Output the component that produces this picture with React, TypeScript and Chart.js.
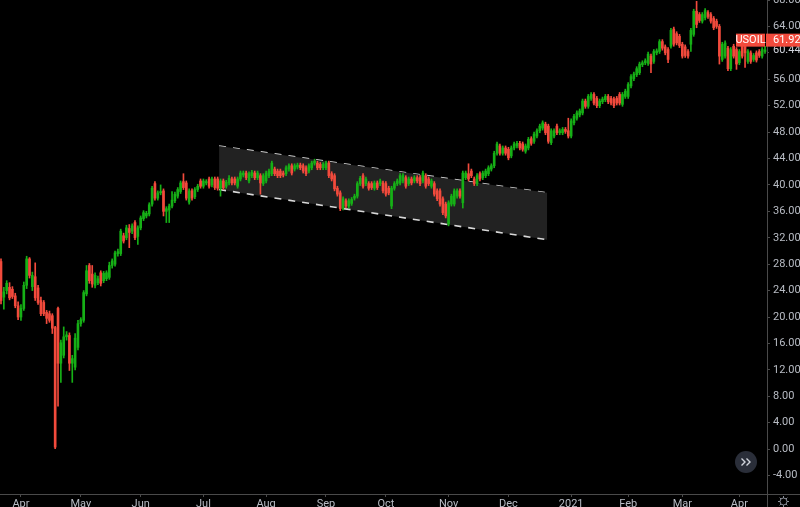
import React, { useEffect, useRef } from 'react';
import { Chart, registerables } from 'chart.js';
Chart.register(...registerables);

// ---- data (daily candles, USOIL) ----
const opens = [
  28.4, 23.0, 24.0, 24.5, 24.2, 23.2, 21.7, 20.0, 21.3, 24.8,
  28.8, 24.6, 26.1, 24.4, 22.5, 22.2, 20.7, 20.5, 20.2, 18.4,
  21.3, 13.0, 14.2, 17.0, 17.2, 13.0, 12.4, 15.4, 19.0, 19.5,
  23.5, 27.8, 26.5, 24.8, 25.2, 26.7, 25.5, 25.8, 26.0, 27.8,
  28.0, 29.6, 29.6, 32.3, 32.0, 33.4, 33.0, 34.3, 32.2, 33.5,
  34.9, 35.3, 35.6, 37.1, 40.2, 38.0, 38.8, 39.1, 36.0, 36.2,
  36.8, 37.6, 38.3, 39.0, 40.5, 40.3, 37.4, 39.1, 38.2, 39.3,
  40.6, 39.8, 40.3, 40.9, 40.0, 40.9, 40.9, 39.5, 40.6, 39.8,
  40.3, 40.9, 40.9, 39.8, 40.9, 41.5, 41.8, 40.6, 41.4, 41.8,
  41.1, 41.4, 40.2, 40.6, 41.4, 41.7, 42.4, 42.1, 42.1, 41.8,
  41.7, 42.4, 42.9, 42.4, 42.7, 43.0, 42.9, 42.6, 42.1, 42.6,
  43.3, 43.3, 43.1, 42.6, 42.6, 43.3, 41.7, 41.4, 39.5, 38.8,
  36.5, 37.6, 36.8, 37.2, 38.0, 38.3, 40.2, 41.4, 40.2, 40.2,
  40.2, 39.5, 40.3, 40.2, 40.3, 40.2, 39.5, 36.8, 39.5, 40.2,
  40.3, 40.6, 41.1, 40.2, 40.9, 40.6, 41.1, 41.1, 40.6, 41.4,
  40.9, 39.8, 40.2, 39.1, 39.1, 37.9, 37.1, 34.1, 37.1, 37.1,
  38.3, 39.1, 37.3, 41.1, 41.7, 42.1, 40.9, 40.2, 41.7, 41.1,
  41.4, 41.7, 42.4, 42.9, 44.8, 45.9, 44.8, 45.6, 45.4, 44.4,
  45.6, 45.9, 46.3, 46.2, 45.1, 45.6, 47.0, 46.6, 47.4, 48.2,
  48.6, 49.2, 48.9, 46.4, 47.4, 48.9, 47.9, 47.9, 48.4, 48.2,
  47.4, 49.4, 50.1, 50.6, 50.9, 52.7, 51.9, 53.1, 53.7, 53.1,
  52.0, 52.6, 52.9, 53.4, 53.1, 53.0, 53.1, 53.7, 52.2, 53.4,
  53.4, 55.0, 56.1, 56.7, 57.0, 58.2, 58.5, 58.4, 59.5, 58.7,
  60.0, 60.2, 61.7, 60.9, 60.5, 61.0, 63.6, 62.9, 62.5, 61.3,
  60.9, 60.2, 61.3, 62.8, 66.3, 65.8, 64.8, 65.3, 66.1, 65.8,
  65.2, 64.8, 64.0, 59.0, 59.5, 60.7, 57.6, 61.0, 60.5, 58.5,
  61.0, 61.3, 58.7, 60.0, 59.0, 60.0, 60.2, 59.5, 60.2,
];
const highs = [
  28.8, 24.5, 25.5, 25.2, 24.6, 23.6, 22.3, 21.9, 25.3, 29.2,
  29.0, 26.8, 28.2, 24.8, 23.0, 22.5, 21.0, 20.9, 20.5, 18.6,
  21.5, 16.5, 18.5, 17.8, 17.6, 14.2, 17.5, 19.5, 19.9, 24.0,
  27.8, 28.1, 27.8, 26.7, 26.2, 27.0, 26.9, 27.0, 28.3, 28.8,
  30.0, 30.3, 33.3, 32.7, 33.9, 34.0, 34.1, 34.6, 33.8, 35.3,
  36.1, 36.0, 37.3, 39.8, 40.5, 39.1, 40.0, 39.4, 36.7, 37.1,
  39.0, 38.9, 39.6, 40.6, 41.7, 40.6, 39.4, 39.4, 39.6, 40.1,
  40.9, 40.9, 40.8, 41.2, 41.2, 41.2, 41.2, 40.9, 40.9, 40.7,
  41.4, 41.2, 41.2, 41.2, 42.1, 42.1, 42.1, 42.0, 42.2, 42.1,
  42.1, 41.7, 41.7, 42.1, 42.4, 43.6, 42.7, 42.4, 42.4, 42.1,
  42.9, 43.2, 43.2, 43.2, 43.3, 43.3, 43.2, 42.9, 43.2, 43.6,
  43.9, 43.6, 43.4, 43.4, 43.6, 43.6, 42.0, 41.7, 39.8, 39.1,
  38.2, 37.9, 37.9, 38.1, 38.6, 40.5, 41.3, 41.7, 41.2, 40.5,
  40.5, 40.6, 40.6, 40.9, 40.6, 40.5, 39.8, 39.8, 40.5, 40.9,
  41.7, 41.7, 41.4, 41.2, 41.2, 41.4, 41.4, 41.4, 42.1, 41.7,
  41.2, 40.9, 40.5, 39.4, 39.4, 38.2, 37.4, 37.6, 38.6, 39.4,
  39.4, 39.4, 42.1, 42.1, 43.2, 42.4, 41.2, 41.7, 42.0, 42.1,
  42.4, 42.9, 43.2, 45.1, 46.5, 46.2, 45.9, 45.9, 45.7, 45.9,
  46.5, 46.6, 46.6, 46.5, 46.2, 47.2, 47.3, 48.0, 48.5, 49.2,
  49.7, 49.5, 49.2, 48.5, 48.5, 49.2, 48.5, 48.7, 48.7, 50.1,
  50.0, 50.7, 51.2, 51.5, 53.0, 53.0, 53.7, 54.0, 54.0, 53.4,
  53.0, 53.3, 53.7, 53.7, 53.4, 53.3, 53.4, 54.0, 54.0, 54.5,
  55.5, 56.7, 57.1, 57.9, 58.6, 58.8, 59.1, 60.1, 59.8, 60.5,
  60.6, 62.0, 62.0, 61.2, 60.8, 63.7, 63.9, 63.2, 62.8, 61.6,
  61.2, 60.5, 63.7, 66.6, 67.8, 66.1, 66.1, 66.7, 66.4, 66.1,
  65.5, 65.1, 64.3, 61.6, 61.8, 61.0, 60.8, 61.3, 60.8, 60.5,
  61.3, 61.6, 60.5, 60.3, 59.9, 60.3, 60.5, 60.8, 61.0,
];
const lows = [
  22.0, 21.2, 23.5, 22.6, 22.8, 21.4, 19.6, 19.5, 21.0, 24.3,
  25.9, 24.0, 22.5, 21.9, 20.2, 20.2, 19.0, 19.2, 17.5, 0.0,
  6.5, 10.1, 13.8, 16.5, 11.9, 10.1, 12.0, 15.0, 18.6, 19.2,
  23.2, 25.1, 24.5, 24.4, 24.9, 24.7, 25.2, 25.5, 25.7, 27.4,
  27.7, 29.2, 29.3, 31.2, 31.7, 30.5, 32.6, 31.7, 31.0, 33.2,
  34.6, 35.0, 35.3, 36.8, 37.7, 37.7, 38.5, 35.3, 34.3, 34.3,
  36.5, 37.3, 38.0, 38.7, 39.3, 37.7, 37.1, 37.7, 37.9, 39.0,
  39.5, 39.5, 40.0, 39.5, 39.7, 39.3, 39.2, 38.3, 39.3, 39.5,
  40.0, 40.0, 40.0, 39.5, 40.6, 41.2, 40.8, 40.3, 41.1, 40.8,
  40.8, 38.6, 39.9, 40.3, 41.1, 41.4, 41.4, 41.1, 41.1, 41.2,
  41.4, 42.1, 41.5, 42.1, 42.4, 42.3, 41.8, 41.4, 41.8, 42.3,
  43.0, 42.3, 42.3, 42.3, 42.3, 41.1, 40.6, 39.1, 38.3, 36.1,
  36.2, 36.5, 36.5, 36.9, 37.7, 38.0, 39.9, 39.5, 39.9, 39.2,
  39.3, 39.2, 39.3, 39.9, 38.8, 38.3, 38.5, 36.4, 39.2, 39.9,
  40.0, 40.3, 39.5, 39.9, 40.0, 40.3, 40.3, 39.9, 40.3, 39.5,
  39.9, 39.5, 38.3, 37.6, 36.8, 35.5, 35.0, 33.8, 36.8, 36.8,
  38.0, 38.0, 36.5, 40.8, 40.6, 41.1, 39.9, 39.9, 40.6, 40.8,
  41.1, 41.4, 42.1, 42.6, 44.5, 44.5, 44.5, 44.5, 43.8, 44.1,
  45.3, 45.6, 45.3, 45.1, 44.8, 45.3, 46.0, 46.3, 47.1, 47.9,
  48.3, 47.6, 46.3, 46.1, 47.1, 47.6, 47.6, 47.6, 47.8, 47.1,
  47.1, 49.1, 49.8, 50.3, 50.6, 51.6, 51.6, 52.8, 52.1, 51.7,
  51.7, 52.3, 52.6, 52.3, 52.1, 51.7, 52.1, 52.1, 51.9, 53.1,
  53.1, 54.7, 55.8, 56.4, 56.7, 57.9, 58.2, 58.1, 57.0, 58.4,
  59.7, 59.9, 60.4, 59.7, 58.5, 60.7, 61.0, 61.2, 60.8, 59.2,
  59.3, 59.2, 60.2, 62.5, 63.8, 64.6, 64.5, 65.0, 65.2, 64.5,
  63.5, 63.7, 58.3, 58.7, 59.2, 57.3, 57.3, 59.2, 57.5, 58.2,
  59.2, 57.8, 58.4, 58.4, 58.7, 58.6, 59.3, 59.2, 59.9,
];
const closes = [
  22.5, 23.8, 25.1, 22.9, 23.1, 21.7, 20.0, 21.3, 24.8, 28.8,
  26.3, 26.3, 22.9, 22.2, 20.5, 20.5, 19.8, 19.5, 18.3, 0.3,
  13.0, 16.1, 17.0, 17.3, 13.0, 13.7, 16.8, 19.0, 19.6, 23.7,
  27.0, 25.5, 25.0, 26.3, 25.8, 25.1, 26.6, 26.7, 27.8, 28.5,
  29.7, 29.9, 33.0, 31.5, 33.5, 32.8, 33.8, 32.0, 33.5, 35.0,
  35.8, 35.7, 37.0, 39.5, 38.0, 38.8, 39.0, 36.0, 36.4, 36.8,
  37.7, 38.6, 39.3, 40.3, 39.6, 38.0, 39.1, 38.0, 39.3, 39.8,
  39.8, 40.6, 40.5, 39.8, 40.9, 39.6, 39.5, 40.6, 39.6, 40.4,
  41.0, 40.3, 40.3, 40.9, 41.8, 41.8, 41.1, 41.7, 41.9, 41.1,
  41.8, 40.3, 41.4, 41.8, 42.1, 43.3, 41.7, 41.4, 41.4, 41.5,
  42.6, 42.9, 41.8, 42.9, 43.0, 42.6, 42.1, 41.7, 42.9, 43.3,
  43.6, 42.6, 42.6, 43.1, 43.3, 41.4, 40.9, 39.4, 38.6, 36.4,
  37.9, 36.8, 37.6, 37.8, 38.3, 40.2, 41.0, 39.8, 40.9, 39.5,
  39.6, 40.3, 39.6, 40.6, 39.1, 38.6, 38.8, 39.5, 40.2, 40.6,
  41.4, 41.4, 39.8, 40.9, 40.3, 41.1, 40.6, 40.2, 41.8, 39.8,
  40.2, 40.6, 38.6, 37.9, 37.1, 35.8, 35.3, 37.3, 38.3, 39.1,
  39.1, 38.3, 41.8, 41.8, 40.9, 41.4, 40.2, 41.4, 40.9, 41.8,
  42.1, 42.6, 42.9, 44.8, 46.2, 44.8, 45.6, 44.8, 44.1, 45.6,
  46.2, 46.3, 45.6, 45.4, 45.9, 46.9, 46.3, 47.7, 48.2, 48.9,
  49.4, 47.9, 46.6, 48.2, 48.2, 47.9, 48.2, 48.4, 48.1, 47.4,
  49.7, 50.4, 50.9, 51.2, 52.7, 51.9, 53.4, 53.7, 52.4, 52.0,
  52.7, 53.0, 53.4, 52.6, 52.4, 52.0, 52.4, 52.4, 53.7, 54.2,
  55.2, 56.4, 56.8, 57.6, 58.3, 58.5, 58.8, 59.8, 58.3, 60.2,
  60.3, 61.7, 60.7, 60.0, 59.0, 63.4, 61.3, 61.5, 61.1, 59.5,
  59.6, 59.5, 63.4, 66.3, 64.3, 64.9, 65.8, 66.4, 65.5, 64.8,
  63.8, 64.0, 59.5, 61.3, 61.5, 57.6, 60.5, 59.5, 58.3, 60.2,
  59.5, 60.0, 60.2, 58.7, 59.6, 58.9, 59.6, 60.5, 60.44,
];

const monthTickIndex = [7, 28, 49, 71, 93, 114, 135, 157, 178, 200, 220, 239, 259];
const monthTickLabels = ['Apr', 'May', 'Jun', 'Jul', 'Aug', 'Sep', 'Oct', 'Nov', 'Dec', '2021', 'Feb', 'Mar', 'Apr'];
const yTickValues = [-4, 0, 4, 8, 12, 16, 20, 24, 28, 32, 36, 40, 44, 48, 52, 56, 60, 64, 68];

// descending channel drawing
const channelX = [76.5, 191.6];
const channelUpper = [45.9, 38.8];
const channelLower = [39.3, 31.7];

const symbolName = 'USOIL';
const lastPrice = 61.92;
const markPrice = 60.44;

const UP = '#16b016';
const DOWN = '#f24a3c';
const AXIS = '#4a4a4a';
const TEXT = '#b8bcc4';
const FONT = 'Roboto, "Liberation Sans", sans-serif';

const overlayPlugin = {
  id: 'overlay',
  afterDraw(chart: any) {
    const ctx = chart.ctx as CanvasRenderingContext2D;
    const y = chart.scales.y;
    const area = chart.chartArea;
    ctx.save();
    // axis lines
    ctx.strokeStyle = AXIS;
    ctx.lineWidth = 1;
    ctx.beginPath();
    ctx.moveTo(0, Math.round(area.bottom) + 0.5);
    ctx.lineTo(chart.width, Math.round(area.bottom) + 0.5);
    ctx.moveTo(Math.round(area.right) + 0.5, 0);
    ctx.lineTo(Math.round(area.right) + 0.5, chart.height);
    ctx.stroke();

    ctx.font = `11px ${FONT}`;
    ctx.textBaseline = 'middle';
    // mark price label
    const my = y.getPixelForValue(markPrice);
    ctx.fillStyle = '#000';
    ctx.fillRect(area.right + 2, my - 7, 33, 14);
    ctx.fillStyle = '#d1d4dc';
    ctx.textAlign = 'left';
    ctx.fillText(markPrice.toFixed(2), area.right + 6, my);

    // last price label
    const ly = y.getPixelForValue(lastPrice);
    ctx.fillStyle = DOWN;
    ctx.fillRect(736, ly - 6.5, 29, 13);
    ctx.fillRect(area.right - 1, ly - 6.5, chart.width - area.right + 1, 13);
    ctx.fillStyle = '#ffffff';
    ctx.textAlign = 'center';
    ctx.fillText(symbolName, 750.5, ly + 0.5);
    ctx.textAlign = 'left';
    ctx.fillText(lastPrice.toFixed(2), area.right + 6, ly + 0.5);

    // scroll button
    ctx.fillStyle = '#2a2e39';
    ctx.beginPath();
    ctx.arc(746, 462, 11, 0, Math.PI * 2);
    ctx.fill();
    ctx.strokeStyle = '#d1d4dc';
    ctx.lineWidth = 1.4;
    ctx.beginPath();
    ctx.moveTo(741.5, 458.5); ctx.lineTo(745, 462); ctx.lineTo(741.5, 465.5);
    ctx.moveTo(746.5, 458.5); ctx.lineTo(750, 462); ctx.lineTo(746.5, 465.5);
    ctx.stroke();

    // settings gear
    ctx.strokeStyle = '#8a8e98';
    ctx.lineWidth = 1;
    ctx.beginPath();
    ctx.arc(783.5, 501.5, 3.5, 0, Math.PI * 2);
    ctx.stroke();
    ctx.beginPath();
    for (let k = 0; k < 8; k++) {
      const a = (k * Math.PI) / 4;
      ctx.moveTo(783.5 + Math.cos(a) * 3.5, 501.5 + Math.sin(a) * 3.5);
      ctx.lineTo(783.5 + Math.cos(a) * 5.5, 501.5 + Math.sin(a) * 5.5);
    }
    ctx.stroke();
    ctx.restore();
  },
};

export default function App() {
  const ref = useRef<HTMLCanvasElement | null>(null);
  useEffect(() => {
    if (!ref.current) return;
    const idx = closes.map((_, i) => i);
    const colors = closes.map((c, i) => (c >= opens[i] ? UP : DOWN));
    const chart = new Chart(ref.current, {
      type: 'bar',
      data: {
        datasets: [
          {
            type: 'line',
            data: channelX.map((x, i) => ({ x, y: channelUpper[i] })),
            borderColor: '#d8d8d8',
            borderWidth: 1.6,
            borderDash: [7, 7],
            pointRadius: 0,
            fill: false,
            order: 3,
          } as any,
          {
            type: 'line',
            data: channelX.map((x, i) => ({ x, y: channelLower[i] })),
            borderColor: '#d8d8d8',
            borderWidth: 1.6,
            borderDash: [7, 7],
            pointRadius: 0,
            fill: '-1',
            backgroundColor: '#222222',
            order: 2,
          } as any,
          {
            type: 'bar',
            data: idx.map((i) => ({ x: i, y: [lows[i], highs[i]] })),
            backgroundColor: colors,
            barThickness: 1,
            grouped: false,
            borderWidth: 0,
            order: 1,
          } as any,
          {
            type: 'bar',
            data: idx.map((i) => ({ x: i, y: [opens[i], closes[i]] })),
            backgroundColor: colors,
            barThickness: 2,
            grouped: false,
            borderWidth: 0,
            order: 0,
          } as any,
        ],
      },
      options: {
        animation: false,
        responsive: false,
        maintainAspectRatio: false,
        layout: { padding: 0 },
        plugins: { legend: { display: false }, tooltip: { enabled: false } },
        scales: {
          x: {
            type: 'linear',
            min: -0.351,
            max: 268.7,
            offset: false,
            grid: { display: true, drawOnChartArea: false, offset: false, tickLength: 3, color: AXIS },
            border: { display: false },
            ticks: {
              autoSkip: false,
              maxRotation: 0,
              padding: 1,
              color: TEXT,
              font: { size: 11, family: FONT },
              callback: (v: any) => {
                const k = monthTickIndex.indexOf(Number(v));
                return k >= 0 ? monthTickLabels[k] : '';
              },
            },
            afterBuildTicks: (s: any) => {
              s.ticks = monthTickIndex.map((v) => ({ value: v }));
            },
            afterFit: (s: any) => {
              s.height = 13;
              s.paddingLeft = 0;
              s.paddingRight = 0;
            },
          },
          y: {
            type: 'linear',
            position: 'right',
            min: -6.8,
            max: 68,
            grid: { display: true, drawOnChartArea: false, tickLength: 3, color: AXIS },
            border: { display: false },
            ticks: {
              padding: 3,
              color: TEXT,
              font: { size: 11, family: FONT },
              callback: (v: any) => Number(v).toFixed(2),
            },
            afterBuildTicks: (s: any) => {
              s.ticks = yTickValues.map((v) => ({ value: v }));
            },
            afterFit: (s: any) => {
              s.width = 33;
              s.paddingTop = 0;
              s.paddingBottom = 0;
            },
          },
        },
      } as any,
      plugins: [overlayPlugin],
    });
    return () => chart.destroy();
  }, []);
  return (
    <div style={{ position: 'absolute', left: 0, top: 0, width: 800, height: 507, background: '#000' }}>
      <canvas ref={ref} width={800} height={507} style={{ display: 'block' }} />
    </div>
  );
}
